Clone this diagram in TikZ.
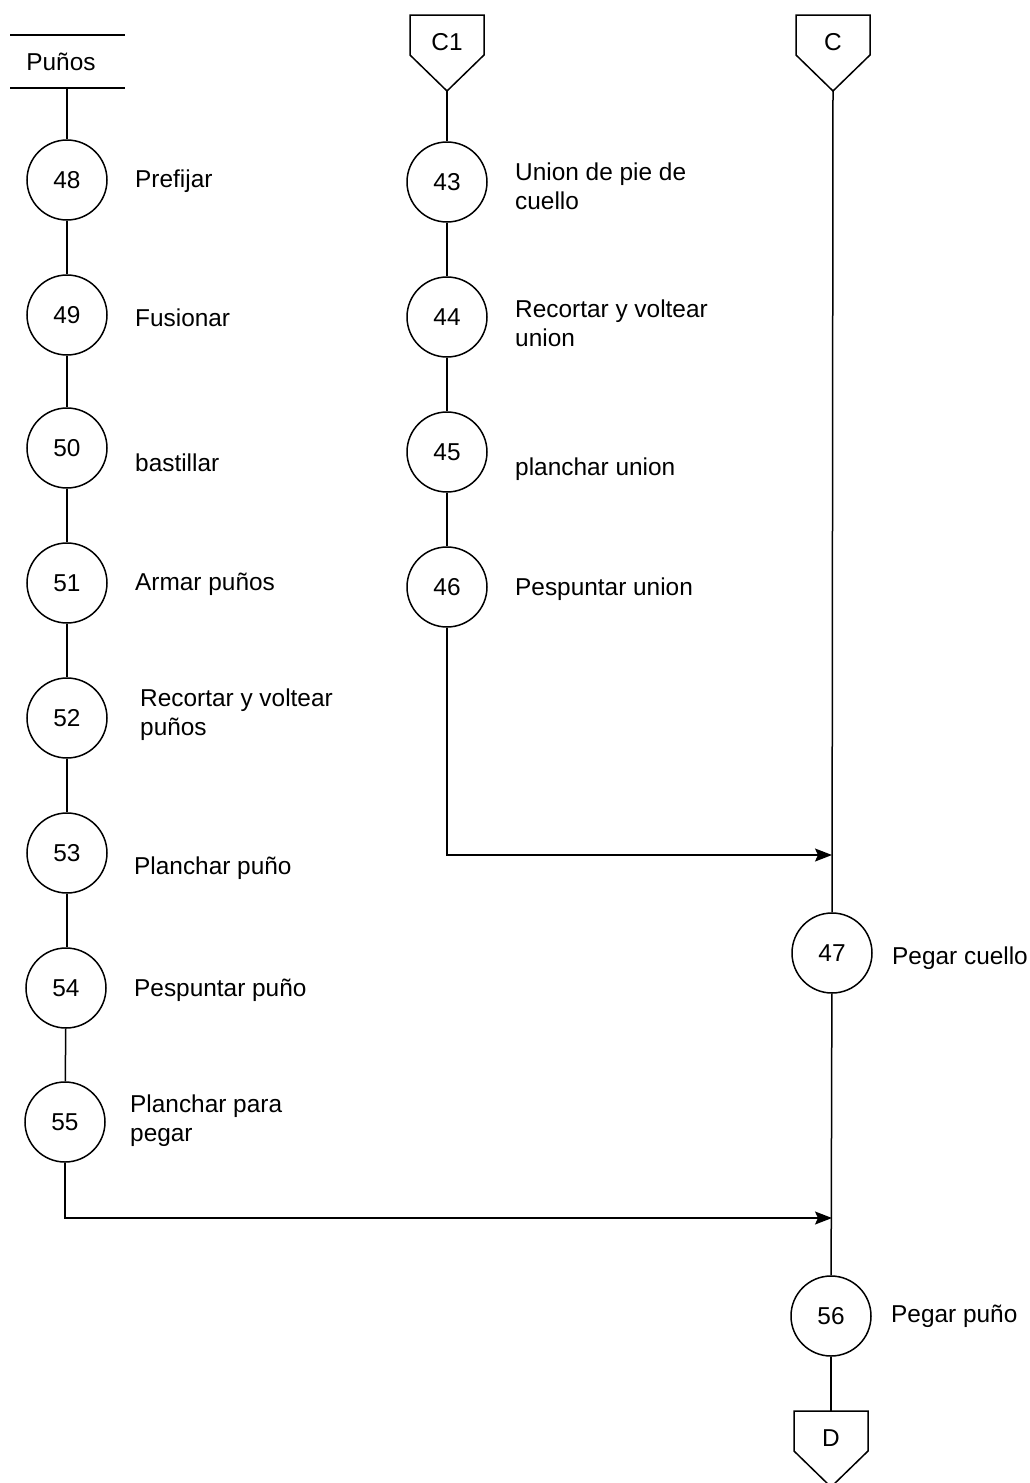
\documentclass[tikz,border=0pt]{standalone}
\usepackage{fontspec}
\setmainfont{Liberation Sans}
\usetikzlibrary{arrows.meta}
\newcommand\lbl{\fontsize{24.4}{29}\selectfont}
\tikzset{
  flow/.style={line width=1.5pt},
  op/.style={circle, draw, line width=1.5pt, minimum size=80pt, inner sep=0pt, font=\lbl},
  txt/.style={anchor=west, align=left, inner sep=0pt, font=\lbl},
  arr/.style={flow, -{Stealth[length=17pt,width=13pt,inset=3pt]}},
  offpage/.pic={
    \draw[flow] (-37,0) -- (37,0) -- (37,40) -- (0,76) -- (-37,40) -- cycle;
    \node[font=\lbl] at (0,27) {#1};
    \coordinate (-top) at (0,0);
    \coordinate (-tip) at (0,76);
  }
}
\begin{document}
\begin{tikzpicture}[x=1pt,y=-1pt]
\useasboundingbox (0,0) rectangle (1030,1483);

% header of the cuffs column
\draw[flow] (10,35) -- (125,35);
\draw[flow] (10,88) -- (125,88);
\node[font=\lbl, inner sep=0pt] (hdr) at (61,62) {Puños};
\coordinate (hdrb) at (67,88);

% cuffs column
\node[op] (n48) at (67,180) {48};
\node[op] (n49) at (67,315) {49};
\node[op] (n50) at (67,448) {50};
\node[op] (n51) at (67,583) {51};
\node[op] (n52) at (67,718) {52};
\node[op] (n53) at (67,853) {53};
\node[op] (n54) at (66,988) {54};
\node[op] (n55) at (65,1122) {55};

\node[txt] (t48) at (135,181) {Prefijar};
\node[txt] (t49) at (135,318) {Fusionar};
\node[txt] (t50) at (135,463) {bastillar};
\node[txt] (t51) at (135,584) {Armar puños};
\node[txt] (t52) at (140,715) {Recortar y voltear\\puños};
\node[txt] (t53) at (134,868) {Planchar puño};
\node[txt] (t54) at (134,990) {Pespuntar puño};
\node[txt] (t55) at (130,1121) {Planchar para\\pegar};

\draw[flow] (hdrb) -- (n48);
\draw[flow] (n48) -- (n49);
\draw[flow] (n49) -- (n50);
\draw[flow] (n50) -- (n51);
\draw[flow] (n51) -- (n52);
\draw[flow] (n52) -- (n53);
\draw[flow] (n53) -- (n54.north -| n53);
\draw[flow] (n54) -- (n55);

% collar column
\pic (c1) at (447,15) {offpage=C1};
\node[op] (n43) at (447,182) {43};
\node[op] (n44) at (447,317) {44};
\node[op] (n45) at (447,452) {45};
\node[op] (n46) at (447,587) {46};

\node[txt] (t43) at (515,186) {Union de pie de\\cuello};
\node[txt] (t44) at (515,323) {Recortar y voltear\\union};
\node[txt] (t45) at (515,469) {planchar union};
\node[txt] (t46) at (515,589) {Pespuntar union};

\draw[flow] (c1-tip) -- (n43);
\draw[flow] (n43) -- (n44);
\draw[flow] (n44) -- (n45);
\draw[flow] (n45) -- (n46);

% main line
\pic (cc) at (833,15) {offpage=C};
\node[op] (n47) at (832,953) {47};
\node[op] (n56) at (831,1316) {56};
\pic (dd) at (831,1411) {offpage=D};

\node[txt] (t47) at (892,958) {Pegar cuello};
\node[txt] (t56) at (891,1316) {Pegar puño};

\coordinate (j1) at (832,855);
\coordinate (j2) at (832,1218);

\draw[flow] (cc-tip) -- (n47);
\draw[flow] (n47) -- (n56);
\draw[flow] (n56) -- (dd-top);

\draw[arr] (n46) |- (j1);
\draw[arr] (n55) |- (j2);
\end{tikzpicture}
\end{document}
